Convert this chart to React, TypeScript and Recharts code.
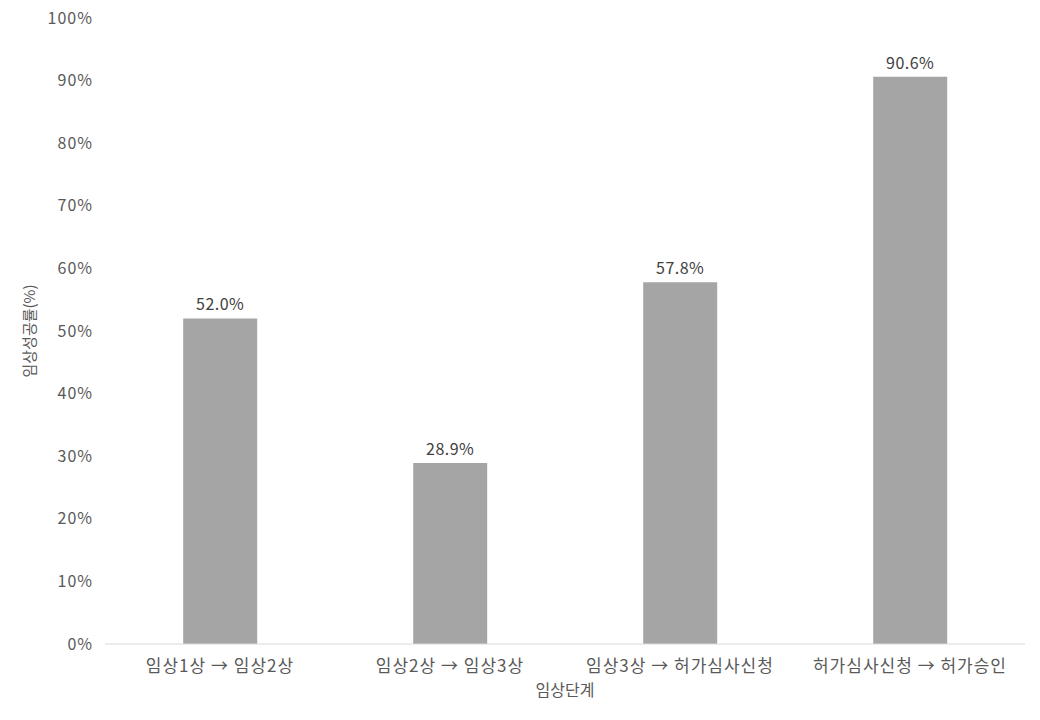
import React from "react";
import { BarChart, Bar, XAxis, YAxis, LabelList, Label } from "recharts";

const categories = ["임상1상 → 임상2상", "임상2상 → 임상3상", "임상3상 → 허가심사신청", "허가심사신청 → 허가승인"];
const values = [52.0, 28.9, 57.8, 90.6];
const yTicks = [0, 10, 20, 30, 40, 50, 60, 70, 80, 90, 100];

const data = categories.map((c, i) => ({ name: c, value: values[i] }));

const FONT = "'Noto Sans CJK KR', 'DejaVu Sans', sans-serif";
const TXT = "#595959";

export default function App() {
  return (
    <div style={{ width: 1040, height: 720, margin: "-8px 0 0 -8px", fontFamily: FONT }}>
      <BarChart width={1040} height={720} data={data} margin={{ top: 18, right: 15, bottom: 36, left: 0 }} barCategoryGap="34%">
        <XAxis
          dataKey="name"
          axisLine={{ stroke: "#D9D9D9" }}
          tickLine={false}
          tick={{ fill: TXT, fontSize: 17, fontFamily: FONT, letterSpacing: 1 }}
          tickMargin={10}
          height={40}
        >
          <Label value="임상단계" position="insideBottom" offset={-12} fill={TXT} style={{ fill: TXT, fontSize: 16, fontFamily: FONT }} />
        </XAxis>
        <YAxis
          domain={[0, 100]}
          ticks={yTicks}
          interval={0}
          width={105}
          axisLine={false}
          tickLine={false}
          tickFormatter={(v) => `${v}%`}
          tick={{ fill: TXT, fontSize: 16, fontFamily: FONT, letterSpacing: 1 }}
          tickMargin={6}
        >
          <Label value="임상성공률(%)" angle={-90} position="insideLeft" offset={30} fill={TXT} style={{ fill: TXT, fontSize: 15, fontFamily: FONT, textAnchor: "middle" }} />
        </YAxis>
        <Bar dataKey="value" fill="#A5A5A5" isAnimationActive={false}>
          <LabelList dataKey="value" position="top" offset={8} formatter={(v) => `${Number(v).toFixed(1)}%`} fill="#404040" style={{ fill: "#404040", fontSize: 16, fontFamily: FONT, letterSpacing: 0.5 }} />
        </Bar>
      </BarChart>
    </div>
  );
}
